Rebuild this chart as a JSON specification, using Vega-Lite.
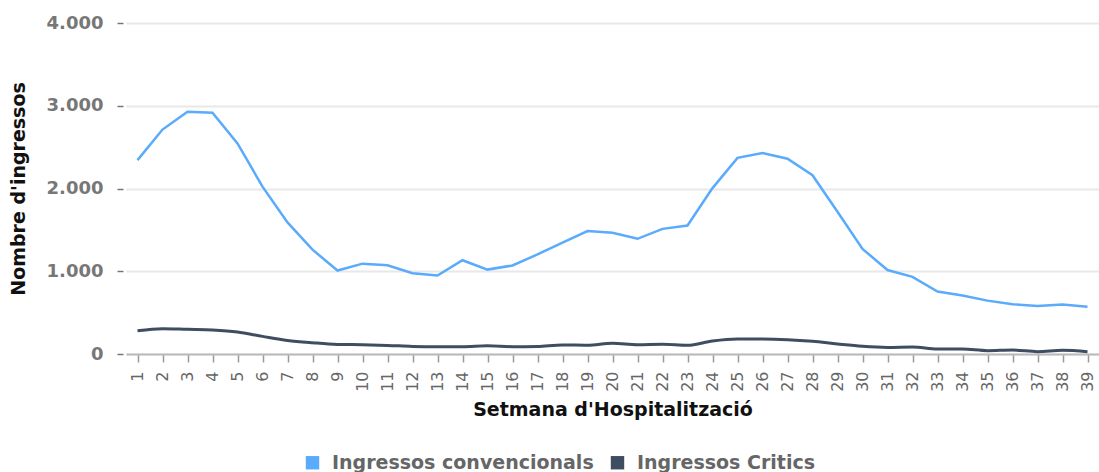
{
  "$schema": "https://vega.github.io/schema/vega-lite/v6.json",
  "autosize": {"type": "none"},
  "padding": {"left": 126, "top": 23, "right": 0, "bottom": 118},
  "width": 973,
  "height": 331,
  "background": "white",
  "config": {
    "view": {"stroke": null},
    "font": "DejaVu Sans"
  },
  "data": {
    "values": [
      {"setmana": 1, "serie": "Ingressos convencionals", "ingressos": 2343},
      {"setmana": 2, "serie": "Ingressos convencionals", "ingressos": 2712},
      {"setmana": 3, "serie": "Ingressos convencionals", "ingressos": 2928},
      {"setmana": 4, "serie": "Ingressos convencionals", "ingressos": 2916},
      {"setmana": 5, "serie": "Ingressos convencionals", "ingressos": 2545},
      {"setmana": 6, "serie": "Ingressos convencionals", "ingressos": 2023},
      {"setmana": 7, "serie": "Ingressos convencionals", "ingressos": 1590},
      {"setmana": 8, "serie": "Ingressos convencionals", "ingressos": 1261},
      {"setmana": 9, "serie": "Ingressos convencionals", "ingressos": 1009},
      {"setmana": 10, "serie": "Ingressos convencionals", "ingressos": 1092},
      {"setmana": 11, "serie": "Ingressos convencionals", "ingressos": 1073},
      {"setmana": 12, "serie": "Ingressos convencionals", "ingressos": 977},
      {"setmana": 13, "serie": "Ingressos convencionals", "ingressos": 948},
      {"setmana": 14, "serie": "Ingressos convencionals", "ingressos": 1133},
      {"setmana": 15, "serie": "Ingressos convencionals", "ingressos": 1020},
      {"setmana": 16, "serie": "Ingressos convencionals", "ingressos": 1070},
      {"setmana": 17, "serie": "Ingressos convencionals", "ingressos": 1203},
      {"setmana": 18, "serie": "Ingressos convencionals", "ingressos": 1345},
      {"setmana": 19, "serie": "Ingressos convencionals", "ingressos": 1485},
      {"setmana": 20, "serie": "Ingressos convencionals", "ingressos": 1465},
      {"setmana": 21, "serie": "Ingressos convencionals", "ingressos": 1392},
      {"setmana": 22, "serie": "Ingressos convencionals", "ingressos": 1512},
      {"setmana": 23, "serie": "Ingressos convencionals", "ingressos": 1553},
      {"setmana": 24, "serie": "Ingressos convencionals", "ingressos": 2005},
      {"setmana": 25, "serie": "Ingressos convencionals", "ingressos": 2370},
      {"setmana": 26, "serie": "Ingressos convencionals", "ingressos": 2430},
      {"setmana": 27, "serie": "Ingressos convencionals", "ingressos": 2360},
      {"setmana": 28, "serie": "Ingressos convencionals", "ingressos": 2160},
      {"setmana": 29, "serie": "Ingressos convencionals", "ingressos": 1720},
      {"setmana": 30, "serie": "Ingressos convencionals", "ingressos": 1270},
      {"setmana": 31, "serie": "Ingressos convencionals", "ingressos": 1015},
      {"setmana": 32, "serie": "Ingressos convencionals", "ingressos": 932},
      {"setmana": 33, "serie": "Ingressos convencionals", "ingressos": 755},
      {"setmana": 34, "serie": "Ingressos convencionals", "ingressos": 708},
      {"setmana": 35, "serie": "Ingressos convencionals", "ingressos": 645},
      {"setmana": 36, "serie": "Ingressos convencionals", "ingressos": 602},
      {"setmana": 37, "serie": "Ingressos convencionals", "ingressos": 580},
      {"setmana": 38, "serie": "Ingressos convencionals", "ingressos": 598},
      {"setmana": 39, "serie": "Ingressos convencionals", "ingressos": 572},
      {"setmana": 1, "serie": "Ingressos Critics", "ingressos": 281},
      {"setmana": 2, "serie": "Ingressos Critics", "ingressos": 306},
      {"setmana": 3, "serie": "Ingressos Critics", "ingressos": 298},
      {"setmana": 4, "serie": "Ingressos Critics", "ingressos": 290},
      {"setmana": 5, "serie": "Ingressos Critics", "ingressos": 266},
      {"setmana": 6, "serie": "Ingressos Critics", "ingressos": 213},
      {"setmana": 7, "serie": "Ingressos Critics", "ingressos": 164},
      {"setmana": 8, "serie": "Ingressos Critics", "ingressos": 136},
      {"setmana": 9, "serie": "Ingressos Critics", "ingressos": 116},
      {"setmana": 10, "serie": "Ingressos Critics", "ingressos": 112},
      {"setmana": 11, "serie": "Ingressos Critics", "ingressos": 104},
      {"setmana": 12, "serie": "Ingressos Critics", "ingressos": 92},
      {"setmana": 13, "serie": "Ingressos Critics", "ingressos": 88},
      {"setmana": 14, "serie": "Ingressos Critics", "ingressos": 88},
      {"setmana": 15, "serie": "Ingressos Critics", "ingressos": 100},
      {"setmana": 16, "serie": "Ingressos Critics", "ingressos": 88},
      {"setmana": 17, "serie": "Ingressos Critics", "ingressos": 92},
      {"setmana": 18, "serie": "Ingressos Critics", "ingressos": 110},
      {"setmana": 19, "serie": "Ingressos Critics", "ingressos": 106},
      {"setmana": 20, "serie": "Ingressos Critics", "ingressos": 129},
      {"setmana": 21, "serie": "Ingressos Critics", "ingressos": 113},
      {"setmana": 22, "serie": "Ingressos Critics", "ingressos": 117},
      {"setmana": 23, "serie": "Ingressos Critics", "ingressos": 105},
      {"setmana": 24, "serie": "Ingressos Critics", "ingressos": 157},
      {"setmana": 25, "serie": "Ingressos Critics", "ingressos": 181},
      {"setmana": 26, "serie": "Ingressos Critics", "ingressos": 181},
      {"setmana": 27, "serie": "Ingressos Critics", "ingressos": 173},
      {"setmana": 28, "serie": "Ingressos Critics", "ingressos": 153},
      {"setmana": 29, "serie": "Ingressos Critics", "ingressos": 121},
      {"setmana": 30, "serie": "Ingressos Critics", "ingressos": 93},
      {"setmana": 31, "serie": "Ingressos Critics", "ingressos": 80},
      {"setmana": 32, "serie": "Ingressos Critics", "ingressos": 85},
      {"setmana": 33, "serie": "Ingressos Critics", "ingressos": 60},
      {"setmana": 34, "serie": "Ingressos Critics", "ingressos": 60},
      {"setmana": 35, "serie": "Ingressos Critics", "ingressos": 40},
      {"setmana": 36, "serie": "Ingressos Critics", "ingressos": 48},
      {"setmana": 37, "serie": "Ingressos Critics", "ingressos": 28},
      {"setmana": 38, "serie": "Ingressos Critics", "ingressos": 44},
      {"setmana": 39, "serie": "Ingressos Critics", "ingressos": 28}
    ]
  },
  "encoding": {
    "x": {
      "field": "setmana",
      "type": "ordinal",
      "scale": {"type": "point", "padding": 0.46},
      "axis": {
        "title": "Setmana d'Hospitalització",
        "titleFont": "DejaVu Sans",
        "titleFontSize": 19,
        "titleFontWeight": "bold",
        "titleColor": "#111111",
        "titlePadding": 9,
        "labelAngle": -90,
        "labelFont": "DejaVu Sans",
        "labelFontSize": 16,
        "labelFontWeight": "normal",
        "labelColor": "#666666",
        "labelPadding": 9,
        "tickSize": 8,
        "tickColor": "#999999",
        "tickWidth": 1.5,
        "domainColor": "#bbbbbb",
        "domainWidth": 2,
        "grid": false
      }
    },
    "y": {
      "field": "ingressos",
      "type": "quantitative",
      "scale": {"domain": [0, 4000], "nice": false},
      "axis": {
        "title": "Nombre d'ingressos",
        "titleFont": "DejaVu Sans",
        "titleFontSize": 19,
        "titleFontWeight": "bold",
        "titleColor": "#111111",
        "titlePadding": 18,
        "values": [0, 1000, 2000, 3000, 4000],
        "labelExpr": "replace(format(datum.value, ','), ',', '.')",
        "labelFont": "DejaVu Sans",
        "labelFontSize": 18,
        "labelFontWeight": "bold",
        "labelColor": "#777777",
        "labelPadding": 14,
        "tickSize": 6,
        "tickColor": "#777777",
        "tickWidth": 1.5,
        "offset": 3,
        "domain": false,
        "grid": true,
        "gridColor": "#e8e8e8",
        "gridWidth": 2
      }
    },
    "color": {
      "field": "serie",
      "type": "nominal",
      "scale": {
        "domain": ["Ingressos convencionals", "Ingressos Critics"],
        "range": ["#5aabfb", "#3e4d60"]
      },
      "legend": {
        "title": null,
        "orient": "none",
        "direction": "horizontal",
        "legendX": 177,
        "legendY": 430,
        "symbolType": "square",
        "symbolSize": 180,
        "symbolStrokeWidth": 0,
        "symbolOpacity": 1,
        "labelFont": "DejaVu Sans",
        "labelFontSize": 19,
        "labelFontWeight": "bold",
        "labelColor": "#666666",
        "labelOffset": 10,
        "columnPadding": 14,
        "labelLimit": 400,
        "encode": {
          "symbols": {
            "update": {
              "fill": {"scale": "color", "field": "value"},
              "strokeWidth": {"value": 0}
            }
          }
        }
      }
    }
  },
  "layer": [
    {
      "transform": [{"filter": "datum.serie === 'Ingressos convencionals'"}],
      "mark": {"type": "line", "strokeWidth": 2.5, "interpolate": "linear"}
    },
    {
      "transform": [{"filter": "datum.serie === 'Ingressos Critics'"}],
      "mark": {"type": "line", "strokeWidth": 3, "interpolate": "monotone"}
    }
  ]
}
